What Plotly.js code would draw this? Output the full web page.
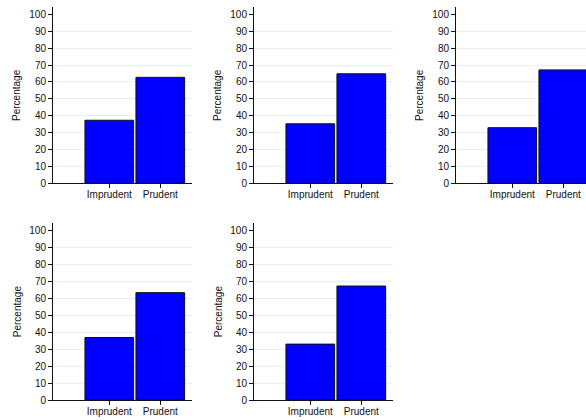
<!DOCTYPE html>
<html>
<head>
<meta charset="utf-8">
<script src="https://cdn.plot.ly/plotly-3.0.1.min.js"></script>
<style>
  html, body { margin: 0; padding: 0; background: #ffffff; overflow: hidden; }
  #chart { width: 600px; height: 420px; }
</style>
</head>
<body>
<div id="chart"></div>
<script>
// Response categories shown on every panel
const categories = ['Imprudent', 'Prudent'];
const categoryPos = [0, 1];

// Percentage in each category, one array per panel
const panel1 = [37.3, 62.7];
const panel2 = [35.2, 64.8];
const panel3 = [32.9, 67.1];
const panel4 = [36.8, 63.2];
const panel5 = [32.9, 67.1];

const yTicks = [0, 10, 20, 30, 40, 50, 60, 70, 80, 90, 100];
const yGrid = [10, 20, 30, 40, 50, 60, 70, 80, 90];
const yTitle = 'Percentage';

const panels = [panel1, panel2, panel3, panel4, panel5];

// Grid geometry in pixels (figure is 600 x 420, right column runs past the view)
const W = 600, H = 420;
const colLeft = [53, 254, 456];
const plotW = 138.7;
const rowTop = [6.7, 222.5];
const rowBottom = [183.3, 400];

const font = { family: 'Liberation Sans, Arial, Helvetica, sans-serif', size: 10, color: '#111111' };

const traces = [];
const layout = {
  width: W, height: H,
  margin: { l: 0, r: 0, t: 0, b: 0 },
  paper_bgcolor: '#ffffff',
  plot_bgcolor: '#ffffff',
  showlegend: false,
  font: font,
  annotations: []
};

panels.forEach((vals, i) => {
  const row = Math.floor(i / 3);
  const col = i % 3;
  const n = i === 0 ? '' : String(i + 1);
  traces.push({
    type: 'bar',
    x: categoryPos,
    y: vals,
    width: 0.955,
    marker: { color: '#0000ff', line: { color: '#111111', width: 1 } },
    xaxis: 'x' + n,
    yaxis: 'y' + n,
    hoverinfo: 'skip'
  });
  layout['xaxis' + n] = {
    domain: [colLeft[col] / W, (colLeft[col] + plotW) / W],
    anchor: 'y' + n,
    range: [-1.104, 1.616],
    tickmode: 'array',
    tickvals: categoryPos,
    ticktext: categories,
    ticks: 'outside', ticklen: 4, tickwidth: 1, tickcolor: '#111111',
    ticklabelstandoff: -2,
    showline: true, linecolor: '#111111', linewidth: 1,
    showgrid: false, zeroline: false,
    tickfont: font,
    fixedrange: true
  };
  layout['yaxis' + n] = {
    domain: [1 - rowBottom[row] / H, 1 - rowTop[row] / H],
    anchor: 'x' + n,
    range: [0, 104.5],
    tickmode: 'array',
    tickvals: yTicks,
    ticks: 'outside', ticklen: 4, tickwidth: 1, tickcolor: '#111111',
    showline: true, linecolor: '#111111', linewidth: 1,
    showgrid: false, zeroline: false,
    minor: { tickmode: 'array', tickvals: yGrid, showgrid: true, gridcolor: '#e7eff2', gridwidth: 1, ticks: '' },
    tickfont: font,
    fixedrange: true
  };
  layout.annotations.push({
    text: yTitle,
    xref: 'x' + n + ' domain', yref: 'y' + n + ' domain',
    x: -0.26, y: 0.5,
    xanchor: 'center', yanchor: 'middle',
    textangle: -90,
    showarrow: false,
    font: font
  });
});

Plotly.newPlot('chart', traces, layout, { displayModeBar: false, staticPlot: true });
</script>
</body>
</html>
